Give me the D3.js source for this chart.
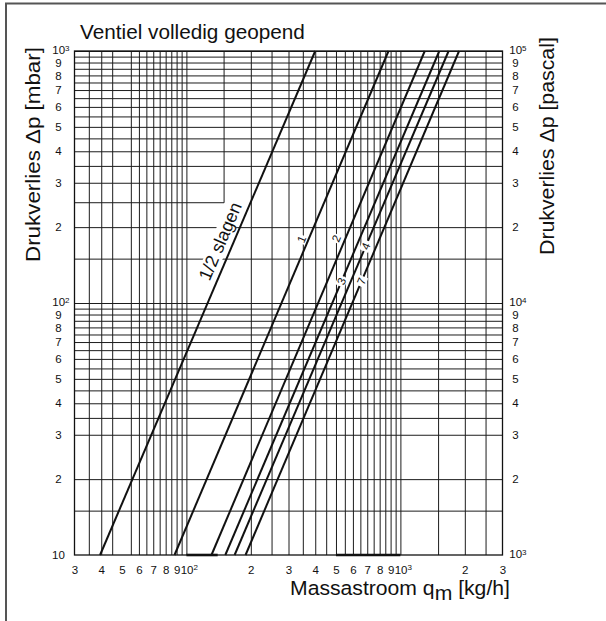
<!DOCTYPE html>
<html>
<head>
<meta charset="utf-8">
<script src="https://cdn.jsdelivr.net/npm/d3@7"></script>
<style>
  html, body { margin: 0; padding: 0; background: #fff; }
  svg { display: block; }
  text { font-family: "Liberation Sans", Arial, Helvetica, sans-serif; fill: #111; }
</style>
</head>
<body>
<svg id="chart" width="606" height="621"></svg>
<script>
// Valve settings (turns open) and where each characteristic crosses 10 mbar and 1000 mbar (flow in kg/h)
const seriesNames = ["1/2 slagen", "1", "2", "3", "4", "7"];
const flowAt10mbar = [39.5, 88, 131, 152, 168, 189];
const flowAt1000mbar = [400, 880, 1300, 1520, 1680, 1880];

// Grid lines (flow in kg/h, pressure drop in mbar)
const flowGrid = [35, 40, 45, 55, 60, 65, 70, 75, 80, 85, 90, 95, 100,
  200, 250, 300, 350, 400, 450, 500, 550, 600, 650, 700, 750, 800, 850, 900, 950, 1000,
  1500, 2000, 2500];
const dpGrid = [15, 20, 30, 35, 40, 45, 50, 55, 60, 65, 70, 75, 80, 85, 90, 95, 100,
  150, 200, 300, 350, 400, 450, 500, 550, 600, 650, 700, 750, 800, 850, 900, 950, 1000];

// Tick labels
const flowTickValues = [30, 40, 50, 60, 70, 80, 90, 100, 200, 300, 400, 500, 600, 700, 800, 900, 1000, 2000, 3000];
const flowTickLabels = ["3", "4", "5", "6", "7", "8", "9", "10^2", "2", "3", "4", "5", "6", "7", "8", "9", "10^3", "2", "3"];
const dpTickValues = [10, 20, 30, 40, 50, 60, 70, 80, 90, 100, 200, 300, 400, 500, 600, 700, 800, 900, 1000];
const dpTickLabelsMbar = ["10", "2", "3", "4", "5", "6", "7", "8", "9", "10^2", "2", "3", "4", "5", "6", "7", "8", "9", "10^3"];
const dpTickLabelsPa = ["10^3", "2", "3", "4", "5", "6", "7", "8", "9", "10^4", "2", "3", "4", "5", "6", "7", "8", "9", "10^5"];

const svg = d3.select("#chart");

const x = d3.scaleLog().domain([30, 3000]).range([74.5, 502.5]);
const y = d3.scaleLog().domain([10, 1000]).range([555, 51]);
const plotW = x(3000) - x(30);
const plotH = y(10) - y(1000);

// Page border (top and left)
svg.append("path")
  .attr("d", "M6,630 V3.5 H606")
  .attr("fill", "none").attr("stroke", "#555").attr("stroke-width", 2);

// Grid
const gridStroke = "#1c1c1c";
svg.append("g")
  .attr("transform", `translate(0,${y(10)})`)
  .call(d3.axisBottom(x).tickValues(flowGrid).tickSize(-plotH).tickFormat(""))
  .call(g => g.select(".domain").remove())
  .call(g => g.selectAll("line").attr("stroke", gridStroke).attr("stroke-width", 1));

svg.append("g")
  .attr("transform", `translate(${x(30)},0)`)
  .call(d3.axisLeft(y).tickValues(dpGrid).tickSize(-plotW).tickFormat(""))
  .call(g => g.select(".domain").remove())
  .call(g => g.selectAll("line").attr("stroke", gridStroke).attr("stroke-width", 1));

// Partial grid lines
svg.append("line")
  .attr("x1", x(150)).attr("x2", x(150)).attr("y1", y(250)).attr("y2", y(1000))
  .attr("stroke", gridStroke).attr("stroke-width", 1);
svg.append("line")
  .attr("x1", x(30)).attr("x2", x(150)).attr("y1", y(250)).attr("y2", y(250))
  .attr("stroke", gridStroke).attr("stroke-width", 1);

// Plot frame
svg.append("rect")
  .attr("x", x(30)).attr("y", y(1000)).attr("width", plotW).attr("height", plotH)
  .attr("fill", "none").attr("stroke", "#111").attr("stroke-width", 1.3);

// Emphasised stretches of the flow axis
[[100, 140], [500, 1000]].forEach(([a, b]) => {
  svg.append("line")
    .attr("x1", x(a)).attr("x2", x(b)).attr("y1", y(10)).attr("y2", y(10))
    .attr("stroke", "#111").attr("stroke-width", 2.6);
});

// Characteristic lines
const series = seriesNames.map((name, i) => ({
  name,
  points: [[flowAt10mbar[i], 10], [flowAt1000mbar[i], 1000]]
}));
const lineGen = d3.line().x(d => x(d[0])).y(d => y(d[1]));

// Label placement along each line: pressure drop where it sits, offset from the line, size
const labelSpec = [
  { dp: 168, off: 12.5, size: 18, onLine: false },
  { dp: 175, off: 6.5, size: 11.5, onLine: false },
  { dp: 175, off: 8.5, size: 11.5, onLine: false },
  { dp: 122, off: 0, size: 11.5, onLine: true },
  { dp: 168, off: 0, size: 11.5, onLine: true },
  { dp: 122, off: 0, size: 11.5, onLine: true }
];

function drawLabel(s, spec) {
  const [p0, p1] = s.points;
  const x0 = x(p0[0]), y0 = y(p0[1]), x1 = x(p1[0]), y1 = y(p1[1]);
  const ang = Math.atan2(y1 - y0, x1 - x0);
  const deg = ang * 180 / Math.PI;
  const t = (y(spec.dp) - y0) / (y1 - y0);
  const px = x0 + t * (x1 - x0), py = y0 + t * (y1 - y0);
  // normal pointing to the upper-left side of the line
  const nx = Math.sin(ang), ny = -Math.cos(ang);
  const cx = px + spec.off * nx, cy = py + spec.off * ny;
  const g = svg.append("g").attr("transform", `translate(${cx},${cy}) rotate(${deg})`);
  const txt = g.append("text")
    .attr("text-anchor", "middle")
    .attr("dominant-baseline", "central")
    .attr("font-size", spec.size)
    .text(s.name);
  const bb = txt.node().getBBox();
  const pad = spec.onLine ? 2 : 1;
  g.insert("rect", "text")
    .attr("x", bb.x - pad).attr("y", bb.y + 1)
    .attr("width", bb.width + 2 * pad).attr("height", bb.height - 2)
    .attr("fill", "#fff");
}

series.forEach((s, i) => { if (!labelSpec[i].onLine) drawLabel(s, labelSpec[i]); });

svg.append("g").selectAll("path")
  .data(series)
  .join("path")
  .attr("d", d => lineGen(d.points))
  .attr("fill", "none")
  .attr("stroke", "#111")
  .attr("stroke-width", 2);

series.forEach((s, i) => { if (labelSpec[i].onLine) drawLabel(s, labelSpec[i]); });

// Tick labels with powers of ten as superscripts
function renderTickText(textSel, labels, values, baseShift, powerDy) {
  textSel.each(function(d) {
    const lab = labels[values.indexOf(d)];
    const t = d3.select(this).text(null)
      .attr("font-size", 11.5)
      .attr("fill", "#222")
      .attr("font-family", "'Liberation Sans', Arial, sans-serif");
    if (lab.includes("^")) {
      const [b, e] = lab.split("^");
      t.append("tspan").text(b);
      t.append("tspan").attr("dy", "-0.45em").attr("font-size", 8).text(e);
      t.attr("x", +t.attr("x") + baseShift);
      if (powerDy) t.attr("y", +(t.attr("y") || 0) + powerDy);
    } else {
      t.text(lab);
    }
  });
}

const bottomAxis = svg.append("g")
  .attr("transform", `translate(0,${y(10)})`)
  .call(d3.axisBottom(x).tickValues(flowTickValues).tickSize(0).tickPadding(10.5));
bottomAxis.select(".domain").remove();
renderTickText(bottomAxis.selectAll("text"), flowTickLabels, flowTickValues, 2.4, 0);

const leftAxis = svg.append("g")
  .attr("transform", `translate(${x(30)},0)`)
  .call(d3.axisLeft(y).tickValues(dpTickValues).tickSize(0));
leftAxis.select(".domain").remove();
leftAxis.selectAll("text").attr("text-anchor", "middle").attr("x", -16);
renderTickText(leftAxis.selectAll("text"), dpTickLabelsMbar, dpTickValues, 2.4, -1);

const rightAxis = svg.append("g")
  .attr("transform", `translate(${x(3000)},0)`)
  .call(d3.axisRight(y).tickValues(dpTickValues).tickSize(0));
rightAxis.select(".domain").remove();
rightAxis.selectAll("text").attr("text-anchor", "middle").attr("x", 13);
renderTickText(rightAxis.selectAll("text"), dpTickLabelsPa, dpTickValues, 2.4, -1);

// Titles, each stretched to its measured span
function fitted(tx, ty, rot, size, width, build) {
  const g = svg.append("g");
  const t = g.append("text").attr("font-size", size).attr("fill", "#111");
  build(t);
  const w = t.node().getBBox().width;
  g.attr("transform", `translate(${tx},${ty}) rotate(${rot}) scale(${width / w},1)`);
  return g;
}

fitted(80, 39, 0, 19.5, 225, t => t.text("Ventiel volledig geopend"));

fitted(290, 595, 0, 19.5, 220, t => {
  t.append("tspan").text("Massastroom q");
  t.append("tspan").attr("dy", 5).text("m");
  t.append("tspan").attr("dy", -5).text(" [kg/h]");
});

fitted(40, 262, -90, 21, 215, t => t.text("Drukverlies \u0394p [mbar]"));
fitted(554, 255, -90, 21, 218, t => t.text("Drukverlies \u0394p [pascal]"));
</script>
</body>
</html>
